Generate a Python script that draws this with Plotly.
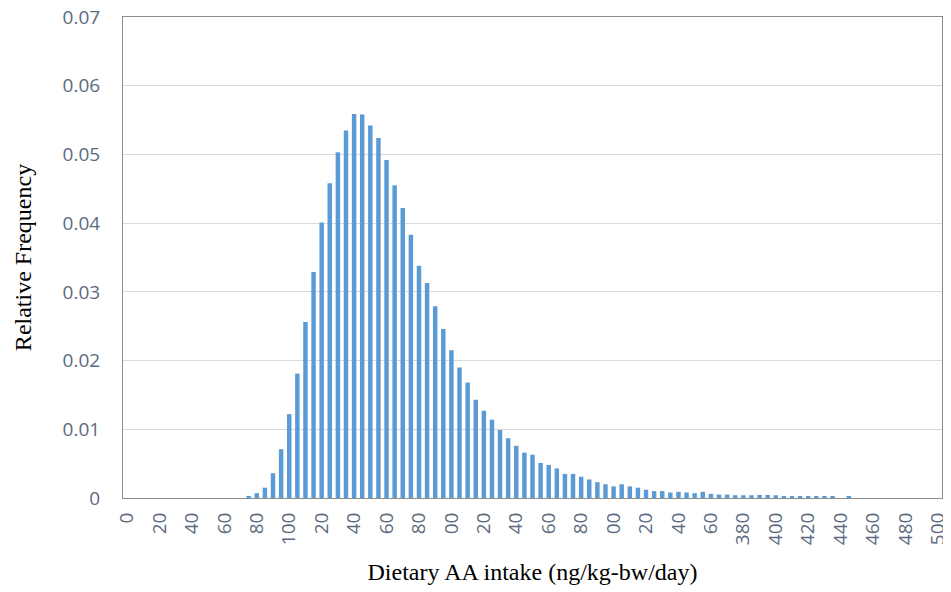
import plotly.graph_objects as go

# histogram bins (ng/kg-bw/day), width 5
intake = list(range(0, 505, 5))

rel_freq = [
    0, 0, 0, 0, 0, 0, 0, 0, 0, 0, 0, 0, 0, 0, 0,
    0.0002, 0.0007, 0.0015, 0.0036, 0.0071,
    0.0122, 0.0181, 0.0256, 0.0329, 0.0401,
    0.0458, 0.0503, 0.0535, 0.0559, 0.0558,
    0.0542, 0.0524, 0.0492, 0.0455, 0.0422,
    0.0383, 0.0338, 0.0313, 0.0279, 0.0246,
    0.0215, 0.0190, 0.0168, 0.0143, 0.0127,
    0.0114, 0.0099, 0.0087, 0.0076, 0.0066,
    0.0063, 0.0051, 0.0048, 0.0043, 0.0035,
    0.0035, 0.0031, 0.0027, 0.0023, 0.0020,
    0.0017, 0.0020, 0.0017, 0.0015, 0.0012,
    0.0010, 0.0010, 0.0008, 0.0009, 0.0008,
    0.0007, 0.0009, 0.0006, 0.0005, 0.0005,
    0.0004, 0.0004, 0.0004, 0.00045, 0.00045,
    0.0004, 0.00025, 0.0002, 0.0002, 0.0002,
    0.0002, 0.0002, 0.00015, 0, 0.00025,
    0, 0, 0, 0, 0, 0, 0, 0, 0, 0, 0,
]

tick_vals = list(range(0, 520, 20))
# labels as they appear in the source figure (some leading digits clipped)
tick_text = ['0', '20', '40', '60', '80', '100', '20', '40', '60', '80',
             '00', '20', '40', '60', '80', '00', '20', '40', '60',
             '380', '400', '420', '440', '460', '480', '500']

y_vals = [0, 0.01, 0.02, 0.03, 0.04, 0.05, 0.06, 0.07]
y_text = ['0', '0.01', '0.02', '0.03', '0.04', '0.05', '0.06', '0.07']

axis_font = dict(family='Open Sans, Liberation Sans, sans-serif', size=19, color='#5b6b80')
title_font = dict(family='Liberation Serif, Times New Roman, serif', size=24, color='#000000')

trace = go.Bar(x=intake, y=rel_freq, marker=dict(color='#5b9bd5', line=dict(width=0)),
               showlegend=False)

# page body has an 8px margin, so the figure is sized to fit the window
layout = go.Layout(
    width=943, height=584,
    margin=dict(l=115, r=9, t=9, b=94),
    paper_bgcolor='white', plot_bgcolor='white',
    bargap=0.45,
    xaxis=dict(range=[-2.5, 502.5], tickvals=tick_vals, ticktext=tick_text,
               tickangle=-90, tickfont=axis_font, showgrid=False, automargin=False,
               showline=True, linecolor='#8c8c8c', linewidth=1, mirror=True,
               ticks='', ticklabelstandoff=6, ticklabeloverflow='allow',
               title=dict(text='Dietary AA intake (ng/kg-bw/day)', font=title_font, standoff=19)),
    yaxis=dict(range=[0, 0.07], tickvals=y_vals, ticktext=y_text, tickfont=axis_font,
               showgrid=True, gridcolor='#d9d9d9', gridwidth=1, automargin=False,
               showline=True, linecolor='#8c8c8c', linewidth=1, mirror=True,
               zeroline=False, ticks='', ticklabelstandoff=18, ticklabeloverflow='allow',
               title=dict(text='Relative Frequency', font=title_font, standoff=24)),
)

fig = go.Figure(data=[trace], layout=layout)
fig.write_html("out.html")
